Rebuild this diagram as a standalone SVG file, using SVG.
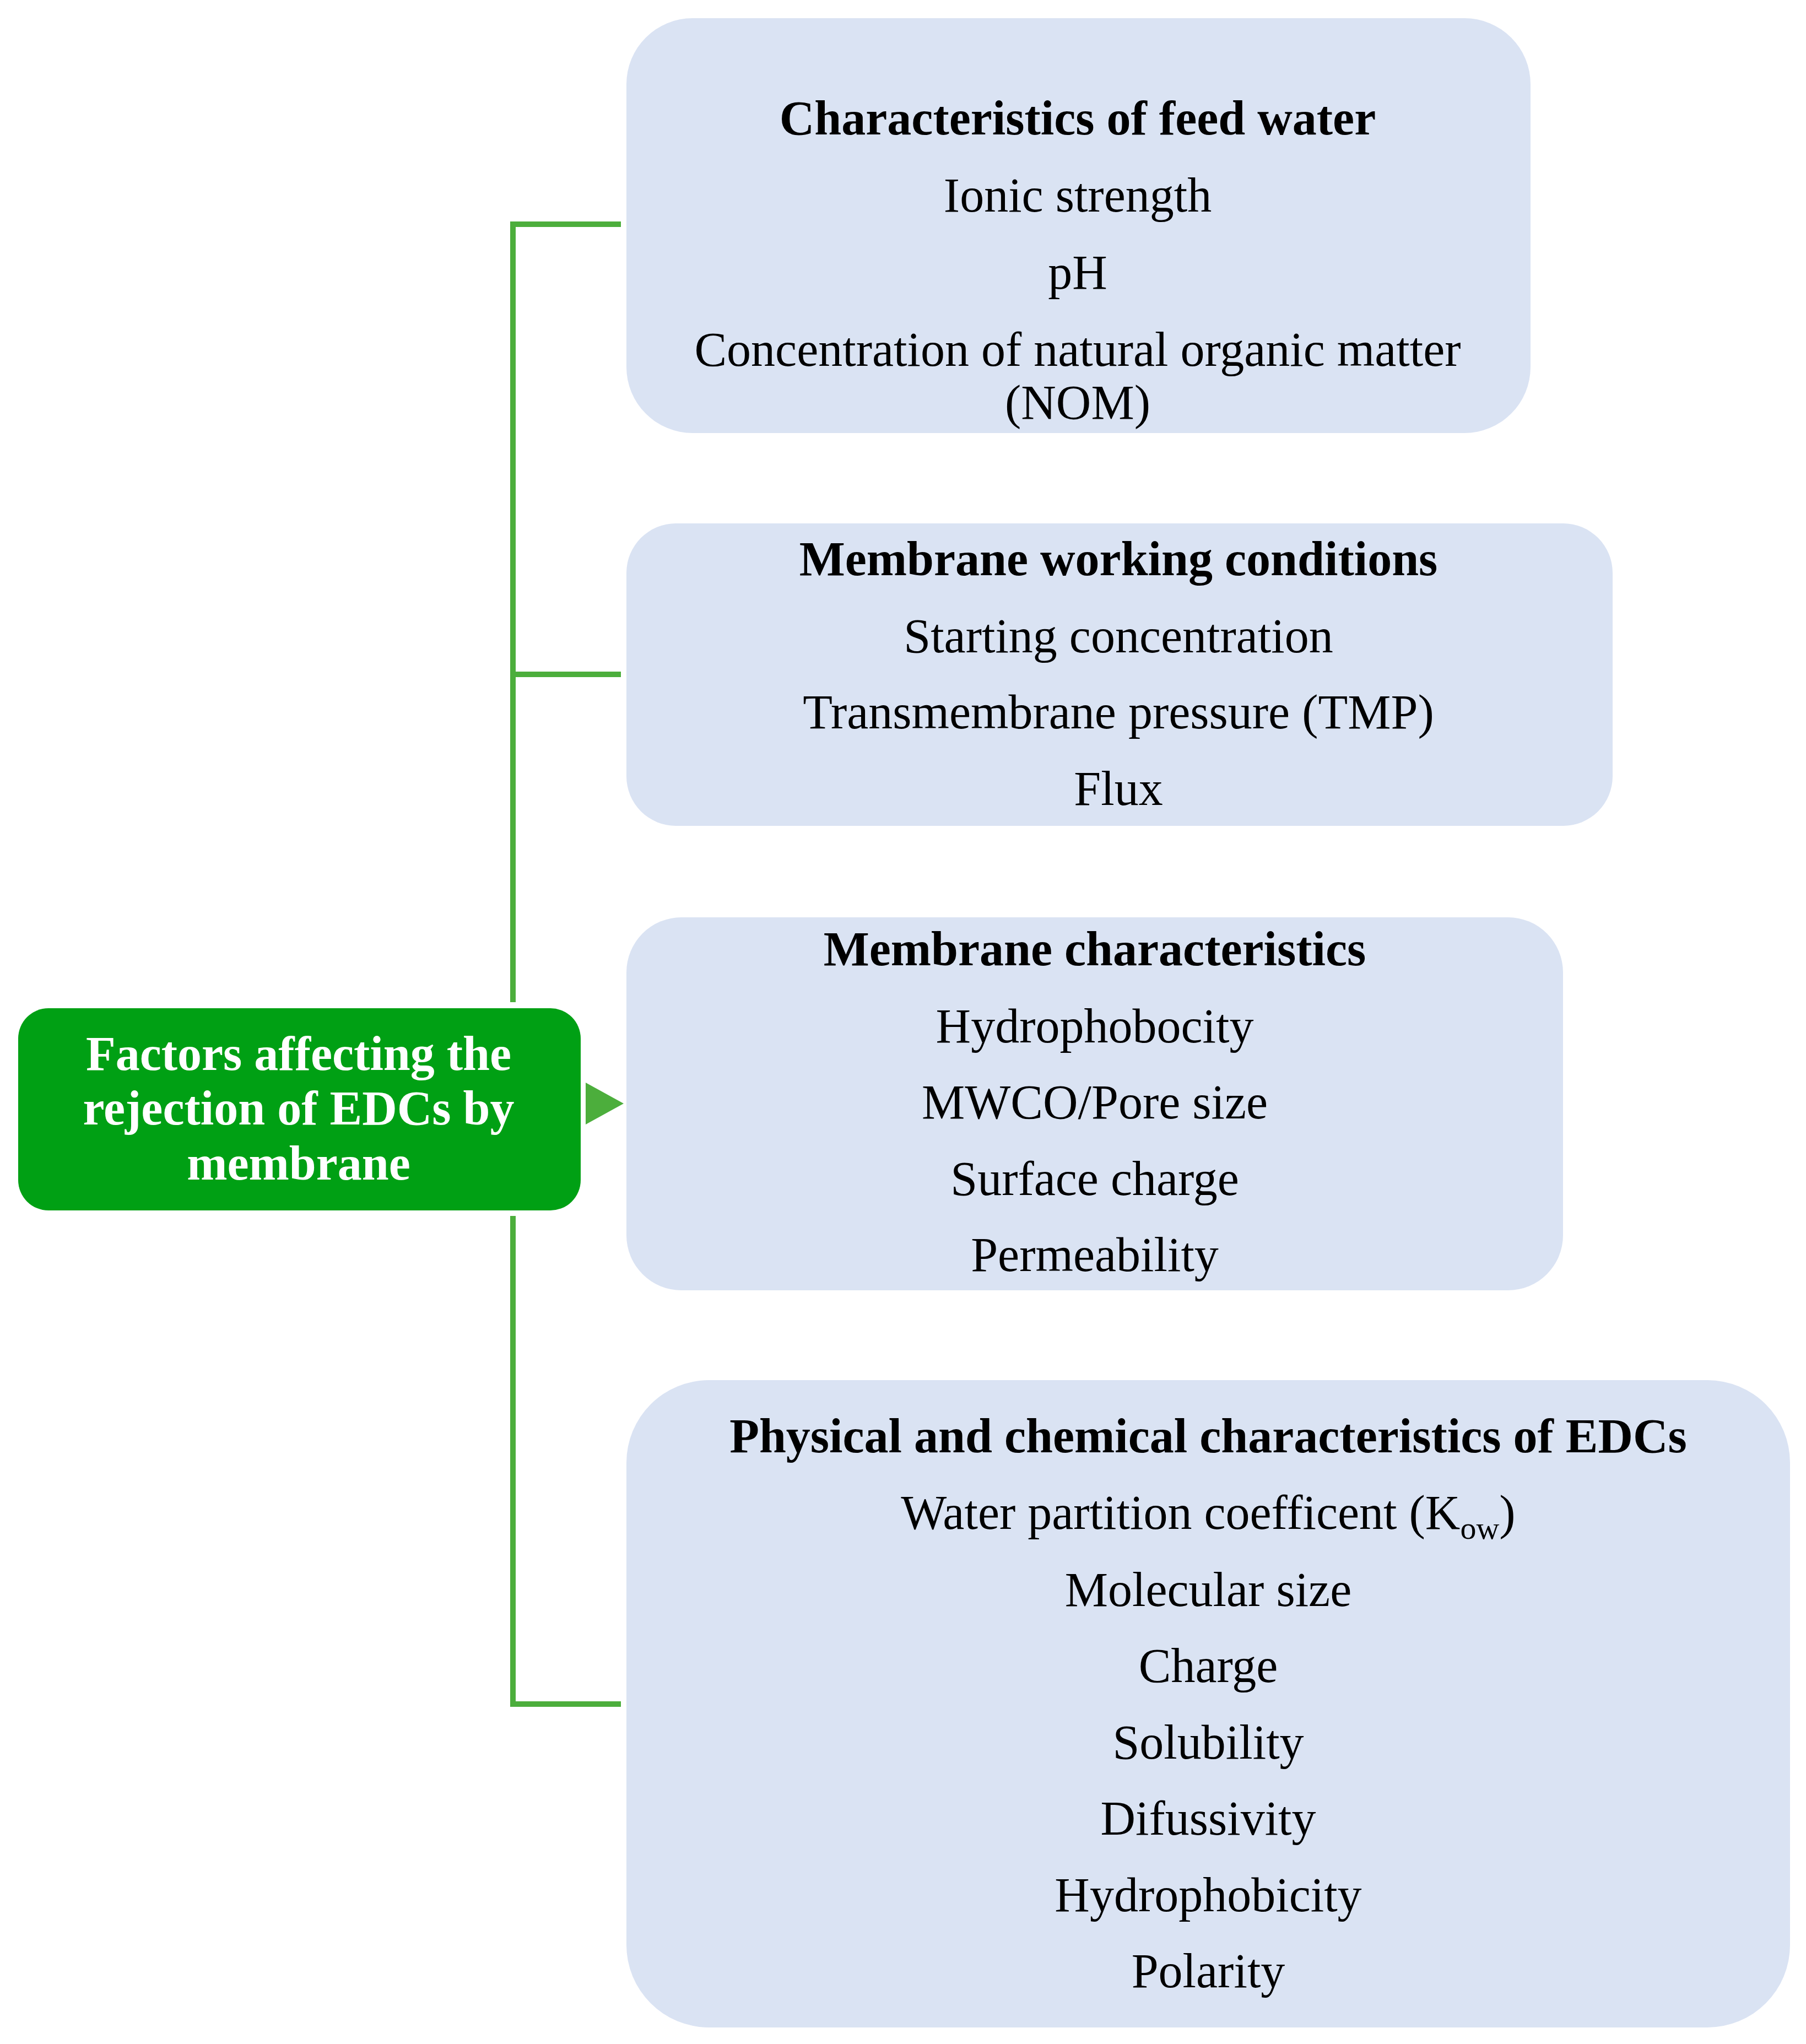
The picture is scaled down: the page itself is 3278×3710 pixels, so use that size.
<svg xmlns="http://www.w3.org/2000/svg" width="3278" height="3710" viewBox="0 0 3278 3710">
<style>
.box{fill:#dae3f3}
.t{font-family:"Liberation Serif","Times New Roman",serif;font-size:88px;text-anchor:middle;fill:#000}
.b{font-weight:bold}
.w{fill:#fff;font-weight:bold}
.ln{stroke:#4cae3c;stroke-width:10;fill:none}
</style>
<rect width="3278" height="3710" fill="#fff"/>
<g id="connectors">
<path class="ln" d="M1127,407 H931 V1819 M931,1224 H1127 M931,2207 V3093 H1127"/>
<polygon points="1063,1965 1132,2003 1063,2041" fill="#4cae3c"/>
</g>
<g id="root">
<rect x="33" y="1830" width="1021" height="367" rx="55" fill="#00a014"/>
<text class="t w" x="542" y="1942">Factors affecting the</text>
<text class="t w" x="542" y="2041">rejection of EDCs by</text>
<text class="t w" x="542" y="2141">membrane</text>
</g>
<g id="feed">
<rect class="box" x="1137" y="33" width="1641" height="753" rx="120"/>
<text class="t b" x="1956" y="244">Characteristics of feed water</text>
<text class="t" x="1956" y="384">Ionic strength</text>
<text class="t" x="1956" y="524">pH</text>
<text class="t" x="1956" y="664">Concentration of natural organic matter</text>
<text class="t" x="1956" y="760">(NOM)</text>
</g>
<g id="working">
<rect class="box" x="1137" y="950" width="1790" height="549" rx="90"/>
<text class="t b" x="2030" y="1044">Membrane working conditions</text>
<text class="t" x="2030" y="1184">Starting concentration</text>
<text class="t" x="2030" y="1322">Transmembrane pressure (TMP)</text>
<text class="t" x="2030" y="1461">Flux</text>
</g>
<g id="membrane">
<rect class="box" x="1137" y="1665" width="1700" height="677" rx="100"/>
<text class="t b" x="1987" y="1752">Membrane characteristics</text>
<text class="t" x="1987" y="1892">Hydrophobocity</text>
<text class="t" x="1987" y="2030">MWCO/Pore size</text>
<text class="t" x="1987" y="2169">Surface charge</text>
<text class="t" x="1987" y="2307">Permeability</text>
</g>
<g id="edcs">
<rect class="box" x="1137" y="2505" width="2112" height="1175" rx="150"/>
<text class="t b" x="2193" y="2636">Physical and chemical characteristics of EDCs</text>
<text class="t" x="2193" y="2775">Water partition coefficent (K<tspan font-size="58" dy="18">ow</tspan><tspan dy="-18">)</tspan></text>
<text class="t" x="2193" y="2915">Molecular size</text>
<text class="t" x="2193" y="3053">Charge</text>
<text class="t" x="2193" y="3192">Solubility</text>
<text class="t" x="2193" y="3330">Difussivity</text>
<text class="t" x="2193" y="3469">Hydrophobicity</text>
<text class="t" x="2193" y="3607">Polarity</text>
</g>
</svg>
